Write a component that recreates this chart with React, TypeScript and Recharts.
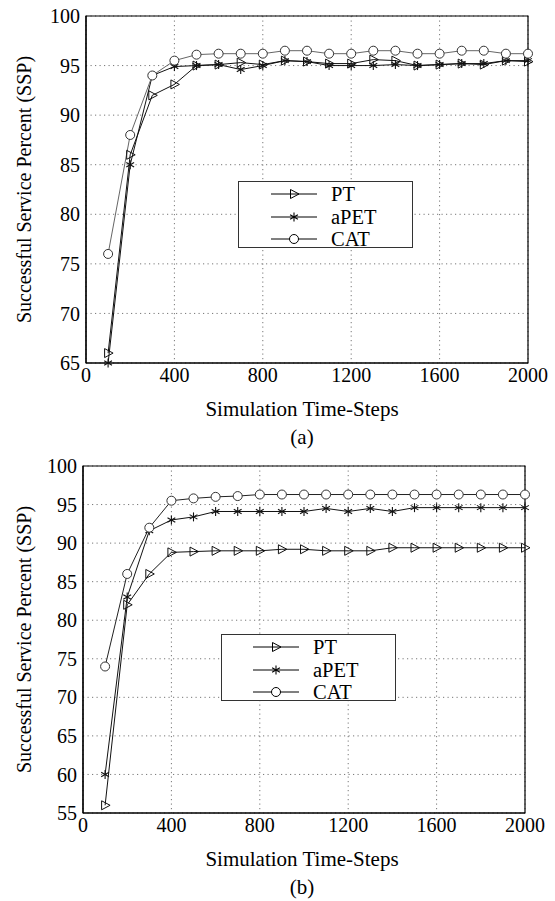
import React from 'react';
import {
  LineChart,
  Line,
  XAxis,
  YAxis,
  CartesianGrid,
  ReferenceArea,
  Legend,
} from 'recharts';

const steps = [100, 200, 300, 400, 500, 600, 700, 800, 900, 1000, 1100, 1200, 1300, 1400, 1500, 1600, 1700, 1800, 1900, 2000];

// panel (a)
const ptA = [66, 86, 92, 93.1, 95, 95.1, 95.3, 95.1, 95.5, 95.4, 95.2, 95.2, 95.6, 95.5, 95.0, 95.1, 95.2, 95.1, 95.5, 95.4];
const apetA = [65, 85, 94, 94.9, 95, 95.1, 94.6, 95.0, 95.5, 95.4, 95.0, 95.0, 95.0, 95.1, 95.0, 95.1, 95.2, 95.2, 95.5, 95.5];
const catA = [76, 88, 94, 95.5, 96.1, 96.2, 96.2, 96.2, 96.5, 96.5, 96.2, 96.2, 96.5, 96.5, 96.2, 96.2, 96.5, 96.5, 96.2, 96.2];

// panel (b)
const ptB = [56, 82, 86, 88.8, 88.9, 89, 89, 89, 89.2, 89.2, 89.0, 89.0, 89.0, 89.4, 89.4, 89.4, 89.4, 89.4, 89.4, 89.4];
const apetB = [60, 83, 91.6, 93, 93.4, 94.1, 94.1, 94.1, 94.1, 94.1, 94.5, 94.1, 94.5, 94.1, 94.6, 94.6, 94.6, 94.6, 94.6, 94.6];
const catB = [74, 86, 92, 95.5, 95.8, 96, 96.1, 96.3, 96.3, 96.3, 96.3, 96.3, 96.3, 96.3, 96.3, 96.3, 96.3, 96.3, 96.3, 96.3];

const xTicks = [0, 400, 800, 1200, 1600, 2000];
const yTicksA = [65, 70, 75, 80, 85, 90, 95, 100];
const yTicksB = [55, 60, 65, 70, 75, 80, 85, 90, 95, 100];

const FONT = '"Liberation Serif", "Times New Roman", serif';

const Tri = ({ cx, cy, stroke }: any) => (
  <path d={`M${cx - 3.5},${cy - 4.5}L${cx + 5},${cy}L${cx - 3.5},${cy + 4.5}Z`} fill="none" stroke={stroke} strokeWidth={1} />
);

const Star = ({ cx, cy, stroke }: any) => (
  <g stroke={stroke} strokeWidth={1.1}>
    <line x1={cx} y1={cy - 4.5} x2={cx} y2={cy + 4.5} />
    <line x1={cx - 3.9} y1={cy - 2.25} x2={cx + 3.9} y2={cy + 2.25} />
    <line x1={cx - 3.9} y1={cy + 2.25} x2={cx + 3.9} y2={cy - 2.25} />
  </g>
);

const Circ = ({ cx, cy, stroke }: any) => (
  <circle cx={cx} cy={cy} r={4.5} fill="#fff" stroke={stroke} strokeWidth={1} />
);

const series = [
  { key: 'pt', name: 'PT', Marker: Tri },
  { key: 'apet', name: 'aPET', Marker: Star },
  { key: 'cat', name: 'CAT', Marker: Circ },
];

const LegendBox = ({ lineX, textX }: { lineX: number; textX: number }) => (
  <div
    style={{
      width: 173,
      height: 65,
      border: '1px solid #333',
      background: '#fff',
      position: 'relative',
      fontFamily: FONT,
    }}
  >
    {series.map((s, i) => (
      <div key={s.key} style={{ position: 'absolute', top: 1 + i * 22.5, left: 0, height: 22, width: '100%' }}>
        <svg width={60} height={22} style={{ position: 'absolute', left: lineX, top: 0 }}>
          <line x1={0} y1={11} x2={46} y2={11} stroke="#000" strokeWidth={1} />
          <s.Marker cx={23} cy={11} stroke="#000" />
        </svg>
        <span style={{ position: 'absolute', left: textX, top: 1, fontSize: 20.5, lineHeight: '20px', color: '#000' }}>
          {s.name}
        </span>
      </div>
    ))}
  </div>
);

interface PanelProps {
  pt: number[];
  apet: number[];
  cat: number[];
  yTicks: number[];
  axisW: number;
  caption: string;
  catStroke: string;
  legendLeft: number;
  legendTop: number;
  lineX: number;
  textX: number;
}

const Panel = ({ pt, apet, cat, yTicks, axisW, caption, catStroke, legendLeft, legendTop, lineX, textX }: PanelProps) => {
  const data = steps.map((t, i) => ({ t, pt: pt[i], apet: apet[i], cat: cat[i] }));
  const strokes: Record<string, string> = { pt: '#111', apet: '#111', cat: catStroke };
  const yMin = yTicks[0];
  return (
    <div style={{ position: 'relative', width: 555, height: 450 }}>
      <LineChart width={555} height={450} data={data} margin={{ top: 16, right: 555 - axisW - 442, bottom: 57, left: 0 }}>
        <CartesianGrid stroke="#777" strokeDasharray="1.2 3.3" strokeWidth={1} />
        <XAxis
          dataKey="t"
          type="number"
          domain={[0, 2000]}
          ticks={xTicks}
          interval={0}
          tickLine={false}
          tickSize={0}
          tickMargin={5}
          axisLine={{ stroke: '#000', strokeWidth: 1.2 }}
          tick={{ fill: '#000', fontSize: 20, fontFamily: FONT }}
          height={30}
        />
        <YAxis
          type="number"
          domain={[yMin, 100]}
          ticks={yTicks}
          interval={0}
          tickLine={false}
          tickSize={0}
          tickMargin={6}
          width={axisW}
          axisLine={{ stroke: '#000', strokeWidth: 1.2 }}
          tick={{ fill: '#000', fontSize: 20, fontFamily: FONT }}
          label={{
            value: 'Successful Service Percent (SSP)',
            angle: -90,
            position: 'center',
            dx: 24 - axisW / 2,
            style: { fill: '#000', fontSize: 20, fontFamily: FONT, textAnchor: 'middle' },
          }}
        />
        <ReferenceArea x1={0} x2={2000} y1={yMin} y2={100} fill="none" fillOpacity={0} stroke="#000" strokeWidth={1.2} />
        {series.map((s) => (
          <Line
            key={s.key}
            dataKey={s.key}
            name={s.name}
            stroke={strokes[s.key]}
            strokeWidth={1}
            isAnimationActive={false}
            dot={(p: any) => <s.Marker key={`${s.key}-${p.index}`} cx={p.cx} cy={p.cy} stroke={s.key === 'cat' ? '#333' : '#111'} />}
            activeDot={false}
          />
        ))}
        <Legend
          layout="vertical"
          verticalAlign="middle"
          align="center"
          wrapperStyle={{ left: legendLeft, top: legendTop, width: 175 }}
          content={() => <LegendBox lineX={lineX} textX={textX} />}
        />
      </LineChart>
      <div style={{ position: 'absolute', left: 0, width: 604, top: 395, textAlign: 'center', fontSize: 21, fontFamily: FONT, lineHeight: '28px' }}>
        Simulation Time-Steps
      </div>
      <div style={{ position: 'absolute', left: 0, width: 604, top: 423, textAlign: 'center', fontSize: 21, fontFamily: FONT, lineHeight: '28px' }}>
        {caption}
      </div>
    </div>
  );
};

export default function App() {
  return (
    <div style={{ position: 'absolute', left: 0, top: 0, width: 555, height: 901, background: '#fff', fontFamily: FONT }}>
      <Panel pt={ptA} apet={apetA} cat={catA} yTicks={yTicksA} axisW={86} caption="(a)" catStroke="#666"
        legendLeft={238} legendTop={181} lineX={32} textX={92} />
      <div style={{ position: 'absolute', top: 450, left: 0 }}>
        <Panel pt={ptB} apet={apetB} cat={catB} yTicks={yTicksB} axisW={83} caption="(b)" catStroke="#222"
          legendLeft={221} legendTop={184} lineX={31} textX={91} />
      </div>
    </div>
  );
}
